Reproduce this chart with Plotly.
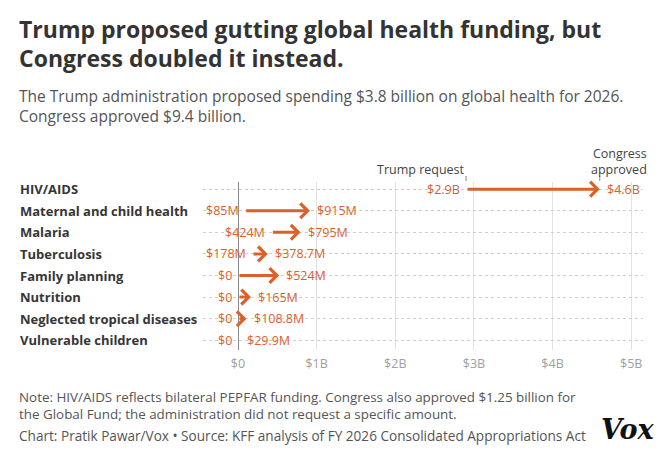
import plotly.graph_objects as go

categories = ["HIV/AIDS", "Maternal and child health", "Malaria", "Tuberculosis",
              "Family planning", "Nutrition", "Neglected tropical diseases", "Vulnerable children"]
trump_request = [2.9, 0.085, 0.424, 0.178, 0.0, 0.0, 0.0, 0.0]
congress_approved = [4.6, 0.915, 0.795, 0.3787, 0.524, 0.165, 0.1088, 0.0299]
trump_labels = ["$2.9B", "$85M", "$424M", "$178M", "$0", "$0", "$0", "$0"]
congress_labels = ["$4.6B", "$915M", "$795M", "$378.7M", "$524M", "$165M", "$108.8M", "$29.9M"]
tick_vals = [0, 1, 2, 3, 4, 5]
tick_text = ["$0", "$1B", "$2B", "$3B", "$4B", "$5B"]

W, H = 667, 461
ML, MR, MT, MB = 203, 24, 182, 111
PW, PH = W - ML - MR, H - MT - MB

def px(x):
    return (x - ML) / PW

def py(y):
    return (H - MB - y) / PH

ORANGE = "#d9622b"
FONT = "Open Sans"
rows = list(range(len(categories)))

fig = go.Figure()
# invisible trace to set up axes
fig.add_trace(go.Scatter(x=congress_approved, y=rows, mode="markers",
                         marker=dict(opacity=0), hoverinfo="skip", showlegend=False))

ann = []
for i, cat in enumerate(categories):
    ann.append(dict(x=px(18), y=i, xref="paper", yref="y", text="<b>" + cat + "</b>",
                    showarrow=False, xanchor="left", yanchor="middle",
                    font=dict(family=FONT, size=13, color="#363636")))
    # arrow
    ann.append(dict(x=congress_approved[i], y=i, ax=trump_request[i], ay=i,
                    xref="x", yref="y", axref="x", ayref="y", text="",
                    showarrow=True, arrowhead=4, arrowsize=0.95, arrowwidth=3,
                    arrowcolor=ORANGE, standoff=0, startstandoff=0))
    ann.append(dict(x=trump_request[i], y=i, xref="x", yref="y", text=trump_labels[i],
                    showarrow=False, xanchor="right", yanchor="middle", xshift=-4,
                    font=dict(family=FONT, size=12.5, color=ORANGE)))
    ann.append(dict(x=congress_approved[i], y=i, xref="x", yref="y", text=congress_labels[i],
                    showarrow=False, xanchor="left", yanchor="middle", xshift=5,
                    font=dict(family=FONT, size=12.5, color=ORANGE)))

# header labels
ann.append(dict(x=trump_request[0], y=py(169), xref="x", yref="paper", text="Trump request",
                showarrow=False, xanchor="right", yanchor="middle", xshift=1,
                font=dict(family=FONT, size=12.5, color="#444")))
ann.append(dict(x=px(649), y=py(161), xref="paper", yref="paper", text="Congress<br>approved",
                showarrow=False, xanchor="right", yanchor="middle", align="right",
                font=dict(family=FONT, size=12.5, color="#444")))

# title / subtitle / notes
ann.append(dict(x=px(17), y=py(29), xref="paper", yref="paper",
                text="<b>Trump proposed gutting global health funding, but</b>",
                showarrow=False, xanchor="left", yanchor="middle",
                font=dict(family=FONT, size=23, color="#333")))
ann.append(dict(x=px(17), y=py(58), xref="paper", yref="paper",
                text="<b>Congress doubled it instead.</b>",
                showarrow=False, xanchor="left", yanchor="middle",
                font=dict(family=FONT, size=23, color="#333")))
ann.append(dict(x=px(17), y=py(96), xref="paper", yref="paper",
                text="The Trump administration proposed spending $3.8 billion on global health for 2026.",
                showarrow=False, xanchor="left", yanchor="middle",
                font=dict(family=FONT, size=15.5, color="#555")))
ann.append(dict(x=px(17), y=py(116), xref="paper", yref="paper",
                text="Congress approved $9.4 billion.",
                showarrow=False, xanchor="left", yanchor="middle",
                font=dict(family=FONT, size=15.5, color="#555")))
ann.append(dict(x=px(17), y=py(405), xref="paper", yref="paper",
                text="Note: HIV/AIDS reflects bilateral PEPFAR funding. Congress also approved $1.25 billion for"
                     "<br>the Global Fund; the administration did not request a specific amount.",
                showarrow=False, xanchor="left", yanchor="middle", align="left",
                font=dict(family=FONT, size=13.4, color="#555")))
ann.append(dict(x=px(17), y=py(435), xref="paper", yref="paper",
                text="Chart: Pratik Pawar/Vox \u2022 Source: KFF analysis of FY 2026 Consolidated Appropriations Act",
                showarrow=False, xanchor="left", yanchor="middle",
                font=dict(family=FONT, size=13.6, color="#555")))
ann.append(dict(x=px(656), y=py(429), xref="paper", yref="paper",
                text="<b><i>Vox</i></b>",
                showarrow=False, xanchor="right", yanchor="middle",
                font=dict(family="DejaVu Serif", size=27, color="#111")))

shapes = [
    dict(type="line", xref="x", yref="paper", x0=trump_request[0], x1=trump_request[0],
         y0=py(176), y1=py(181), line=dict(color="#888", width=1)),
    dict(type="line", xref="x", yref="paper", x0=congress_approved[0], x1=congress_approved[0],
         y0=py(176), y1=py(181), line=dict(color="#888", width=1)),
]

fig.update_layout(
    width=W, height=H, margin=dict(l=ML, r=MR, t=MT, b=MB),
    paper_bgcolor="white", plot_bgcolor="white",
    annotations=ann, shapes=shapes, showlegend=False,
    xaxis=dict(range=[-0.445, 5.15], tickvals=tick_vals, ticktext=tick_text,
               showgrid=True, gridcolor="#e2e2e2", gridwidth=1,
               zeroline=True, zerolinecolor="#8a8a8a", zerolinewidth=1,
               showline=False, ticks="", ticklabelstandoff=4,
               tickfont=dict(family=FONT, size=12.5, color="#a0a0a0"), fixedrange=True),
    yaxis=dict(range=[7.45, -0.33], tickvals=rows, showticklabels=False,
               showgrid=True, gridcolor="#cfcfcf", griddash="dot", gridwidth=1,
               zeroline=False, showline=False, fixedrange=True),
)

fig.write_html("out.html", config={"displayModeBar": False},
               post_script="document.body.style.margin='0';document.body.style.overflow='hidden';")
